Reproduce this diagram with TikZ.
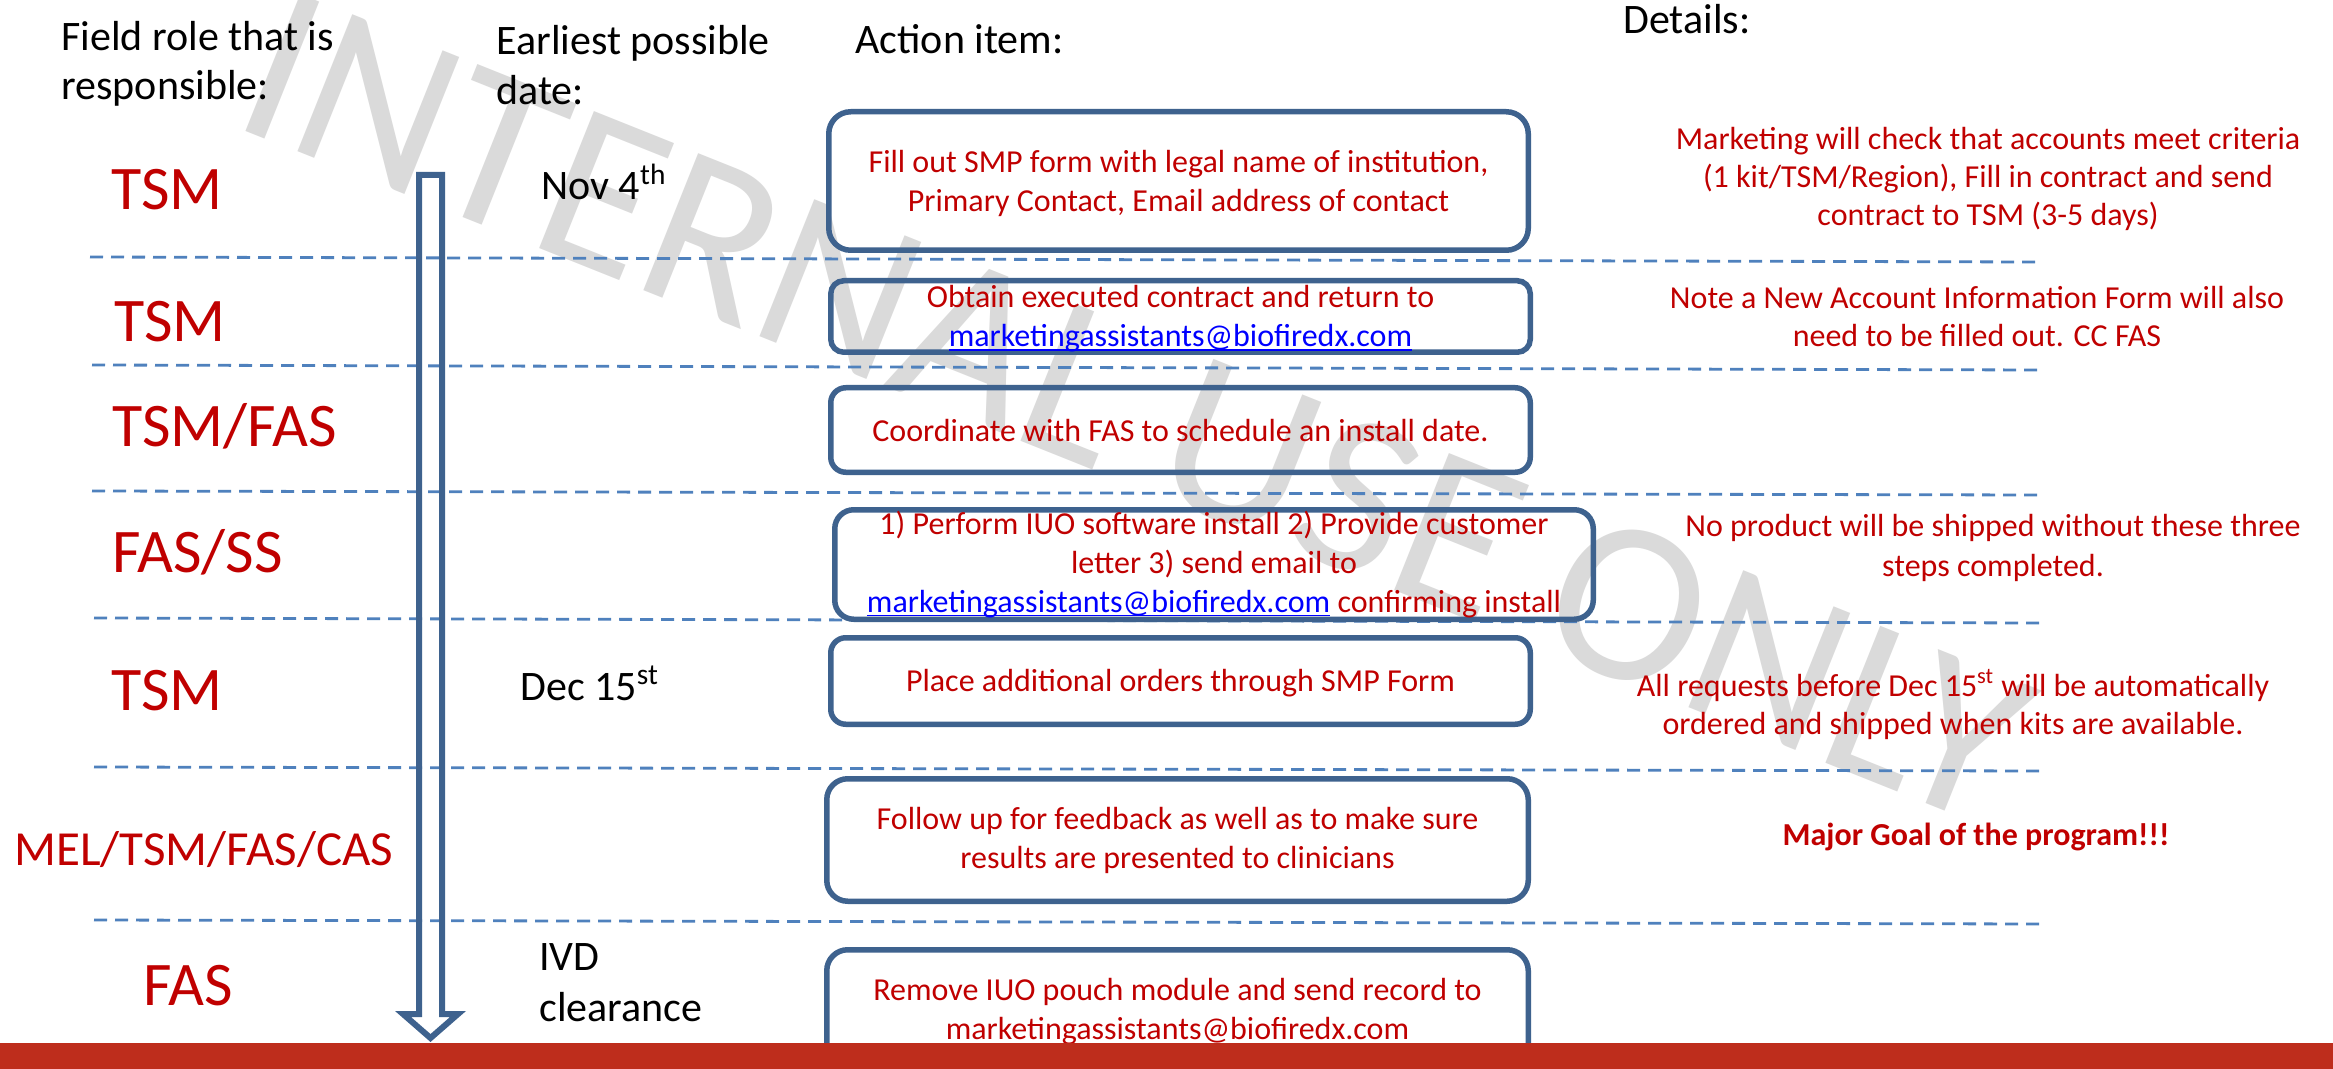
\documentclass[tikz,border=0pt]{standalone}
\usepackage{fontspec}
\setmainfont{Carlito}
\definecolor{boxblue}{RGB}{62,98,142}
\definecolor{dashblue}{RGB}{79,129,189}
\definecolor{txtred}{RGB}{192,0,0}
\definecolor{linkblue}{RGB}{0,0,255}
\definecolor{barred}{RGB}{190,45,28}
\definecolor{wmgray}{RGB}{218,218,218}
\newcommand\mylink[1]{\textcolor{linkblue}{\setbox0\hbox{#1}\rlap{\rule[-0.11em]{\wd0}{0.055em}}\box0}}
\tikzset{
 wm/.style={anchor=base, rotate=-21.8, inner sep=0, text=wmgray, font=\fontsize{115}{115}\selectfont},
 sepline/.style={draw=dashblue, line width=1.4pt, dash pattern=on 6.5pt off 4pt},
 actbox/.style={draw=boxblue, line width=2.75pt},
 acttext/.style={text=txtred, align=center, inner sep=0, font=\fontsize{16}{19.5}\selectfont},
 dettext/.style={text=txtred, align=center, inner sep=0, font=\fontsize{16}{19}\selectfont},
 head/.style={inner sep=0, align=left, text=black},
 role/.style={anchor=base west, inner sep=0, text=txtred, font=\fontsize{31}{37}\selectfont},
 datetext/.style={inner sep=0, align=left, text=black, font=\fontsize{21}{25.5}\selectfont},
 arrowline/.style={draw=boxblue, line width=3pt, line join=miter},
}
\begin{document}
\begin{tikzpicture}[x=0.5pt,y=-0.5pt]
\useasboundingbox (0,0) rectangle (2333,1069);
\clip (0,0) rectangle (2333,1069);
\fill[white] (0,0) rectangle (2333,1069);

% watermark
\node[wm] (wmark) at (1108,476) {INTERNAL USE ONLY};

% separator lines
\coordinate (d1a) at (90,257);  \coordinate (d1b) at (2039,262);
\coordinate (d2a) at (92,365);  \coordinate (d2b) at (2043,370);
\coordinate (d3a) at (92,491);  \coordinate (d3b) at (2039,495);
\coordinate (d4a) at (94,618);  \coordinate (d4b) at (2045,623);
\coordinate (d5a) at (94,767);  \coordinate (d5b) at (2045,771);
\coordinate (d6a) at (94,920);  \coordinate (d6b) at (2045,924);
\draw[sepline] (d1a) -- (d1b);
\draw[sepline] (d2a) -- (d2b);
\draw[sepline] (d3a) -- (d3b);
\draw[sepline] (d4a) -- (d4b);
\draw[sepline] (d5a) -- (d5b);
\draw[sepline] (d6a) -- (d6b);

% action boxes
\node[actbox, minimum width=349.75pt, minimum height=69.25pt, rounded corners=11pt] (b1) at (1178.5,181) {};
\node[actbox, minimum width=349.75pt, minimum height=35.75pt, rounded corners=6.5pt] (b2) at (1180.5,316.5) {};
\node[actbox, minimum width=349.75pt, minimum height=42.25pt, rounded corners=7.5pt] (b3) at (1180.5,430) {};
\node[actbox, minimum width=379.25pt, minimum height=54.75pt, rounded corners=9.5pt] (b4) at (1214,564.5) {};
\node[actbox, minimum width=349.75pt, minimum height=43.25pt, rounded corners=7.5pt] (b5) at (1180.5,681) {};
\node[actbox, minimum width=350.75pt, minimum height=61.25pt, rounded corners=10.5pt] (b6) at (1177.5,840) {};
\node[actbox, minimum width=350.75pt, minimum height=60.25pt, rounded corners=10.5pt] (b7) at (1177.5,1010) {};

% timeline arrow
\draw[arrowline] (419,175) -- (442,175) -- (442,1014) -- (458,1014) -- (430.5,1038) -- (403,1014) -- (419,1014) -- cycle;

% headers
\node[head, anchor=west, font=\fontsize{21}{24.5}\selectfont] (h1) at (61,65.7) {\strut Field role that is\\responsible:\strut};
\node[head, anchor=west, font=\fontsize{21}{25}\selectfont] (h2) at (496,70) {\strut Earliest possible\\date:\strut};
\node[head, anchor=base west, font=\fontsize{21}{25}\selectfont] (h3) at (855,54) {Action item:};
\node[head, anchor=base west, font=\fontsize{21}{25}\selectfont] (h4) at (1623,34) {Details:};

% roles
\node[role] (r1) at (111,210) {TSM};
\node[role] (r2) at (114,342) {TSM};
\node[role] (r3) at (112,446) {TSM/FAS};
\node[role] (r4) at (112,572) {FAS/SS};
\node[role] (r5) at (111,710) {TSM};
\node[role, font=\fontsize{24.5}{29}\selectfont] (r6) at (14,865) {MEL/TSM/FAS/CAS};
\node[role] (r7) at (143,1005) {FAS};

% dates
\node[datetext, anchor=base west] (dt1) at (541,200) {Nov 4\textsuperscript{th}};
\node[datetext, anchor=base west] (dt2) at (520,700) {Dec 15\textsuperscript{st}};
\node[datetext, anchor=west] (dt3) at (539,985.3) {\strut IVD\\clearance\strut};

% action texts
\node[acttext] (t1) at (1178.5,184.7) {\strut Fill out SMP form with legal name of institution,\\Primary Contact, Email address of contact\strut};
\node[acttext] (t2) at (1180.5,319.7) {\strut Obtain executed contract and return to\\\mylink{marketingassistants@biofiredx.com}\strut};
\node[acttext, anchor=base] (t3) at (1180.5,441) {Coordinate with FAS to schedule an install date.};
\node[acttext] (t4) at (1214,566) {\strut 1) Perform IUO software install 2) Provide customer\\letter 3) send email to\\\mylink{marketingassistants@biofiredx.com} confirming install\strut};
\node[acttext, anchor=base] (t5) at (1180.5,691) {Place additional orders through SMP Form};
\node[acttext] (t6) at (1177.5,841.2) {\strut Follow up for feedback as well as to make sure\\results are presented to clinicians\strut};
\node[acttext] (t7) at (1177.5,1012.2) {\strut Remove IUO pouch module and send record to\\marketingassistants@biofiredx.com\strut};

% details
\node[dettext] (e1) at (1988,179.9) {\strut Marketing will check that accounts meet criteria\\(1 kit/TSM/Region), Fill in contract and send\\contract to TSM (3-5 days)\strut};
\node[dettext] (e2) at (1977,319.9) {\strut Note a New Account Information Form will also\\need to be filled out. CC FAS\strut};
\node[dettext, font=\fontsize{16}{20}\selectfont] (e3) at (1993,548) {\strut No product will be shipped without these three\\steps completed.\strut};
\node[dettext] (e4) at (1953,707.4) {\strut All requests before Dec 15\textsuperscript{st} will be automatically\\ordered and shipped when kits are available.\strut};
\node[dettext, anchor=base, font=\bfseries\fontsize{16}{19}\selectfont] (e5) at (1976,845) {Major Goal of the program!!!};

% bottom bar
\fill[barred] (0,1043) rectangle (2333,1069);
\end{tikzpicture}
\end{document}
